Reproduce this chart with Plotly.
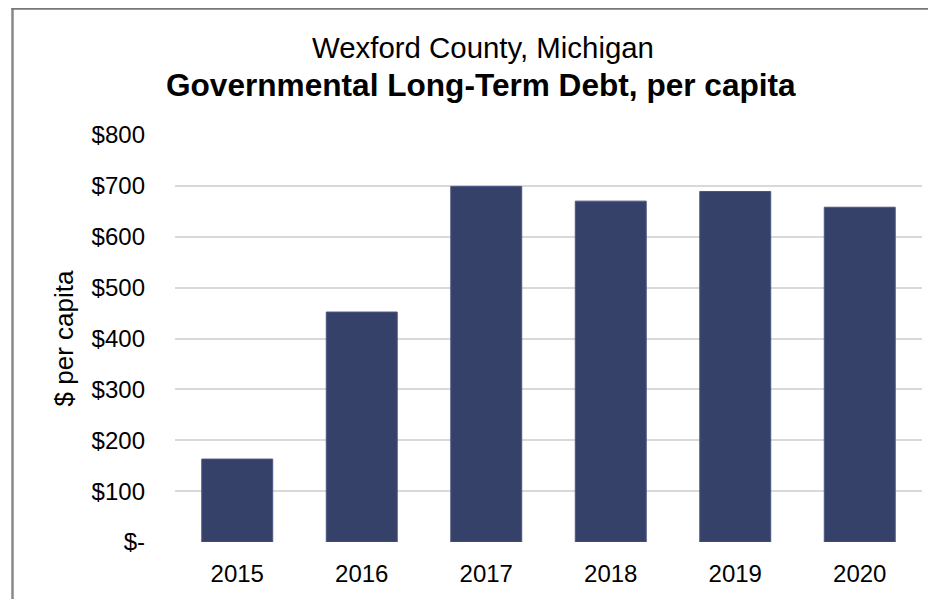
import plotly.graph_objects as go

# chart values
years = ["2015", "2016", "2017", "2018", "2019", "2020"]
debt_per_capita = [163, 452, 699, 670, 689, 658]
tick_values = [0, 100, 200, 300, 400, 500, 600, 700, 800]
tick_labels = ["$-", "$100", "$200", "$300", "$400", "$500", "$600", "$700", "$800"]

FONT = "Liberation Sans, Arial, sans-serif"

# plot area in figure pixels (the page adds an 8px body margin)
PL, PR, PT, PB = 167, 914, 127, 534


def px(x):
    return (x - PL) / (PR - PL)


def py(y):
    return (PB - y) / (PB - PT)


fig = go.Figure()
fig.add_trace(go.Bar(
    x=years,
    y=debt_per_capita,
    marker=dict(color="#36416A", line=dict(color="#4B5682", width=1)),
    hoverinfo="x+y",
))

fig.update_layout(
    width=936,
    height=599,
    margin=dict(l=PL, r=936 - PR, t=PT, b=599 - PB),
    paper_bgcolor="white",
    plot_bgcolor="white",
    bargap=0.43,
    showlegend=False,
    font=dict(family=FONT, color="#000000", size=24),
    xaxis=dict(
        showgrid=False,
        showline=False,
        zeroline=False,
        tickfont=dict(size=24),
        ticklabelstandoff=15,
    ),
    yaxis=dict(
        range=[0, 800],
        tickvals=tick_values,
        ticktext=tick_labels,
        showgrid=True,
        gridcolor="#D9D9D9",
        gridwidth=1.5,
        zeroline=False,
        showline=False,
        tickfont=dict(size=24),
        ticklabelstandoff=29,
        title=dict(text="$ per capita", font=dict(size=26), standoff=10),
    ),
)

# titles
fig.add_annotation(
    text="Wexford County, Michigan",
    xref="paper", yref="paper",
    x=px(475), y=py(39),
    xanchor="center", yanchor="middle",
    showarrow=False,
    font=dict(family=FONT, size=29.4),
)
fig.add_annotation(
    text="<b>Governmental Long-Term Debt, per capita</b>",
    xref="paper", yref="paper",
    x=px(473), y=py(77),
    xanchor="center", yanchor="middle",
    showarrow=False,
    font=dict(family=FONT, size=31.6),
)

# chart frame (left and top edges visible in the crop)
fig.add_shape(type="line", xref="paper", yref="paper",
              x0=px(4.5), x1=px(4.5), y0=py(0), y1=py(620),
              line=dict(color="#888888", width=2.5))
fig.add_shape(type="line", xref="paper", yref="paper",
              x0=px(3.5), x1=px(950), y0=py(0.5), y1=py(0.5),
              line=dict(color="#777777", width=2.5))

fig.write_html("out.html")
